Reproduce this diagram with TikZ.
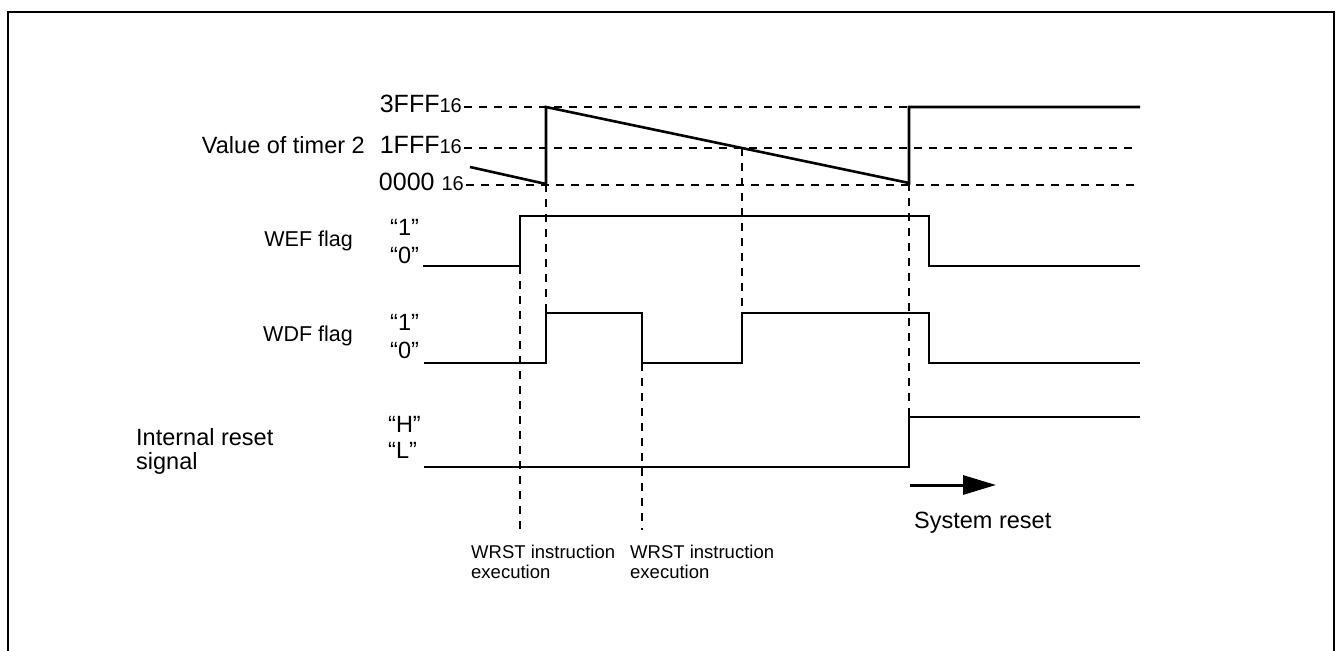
\documentclass[tikz,border=0pt]{standalone}
\usepackage{fontspec}
\setmainfont{Liberation Sans}
\usetikzlibrary{arrows.meta}
\begin{document}
\begin{tikzpicture}[x=1pt,y=-1pt,
  sig/.style={line width=2.6pt,line cap=butt,line join=miter},
  guide/.style={line width=1.5pt,dash pattern=on 8pt off 7pt},
  lbl/.style={inner sep=0pt,font=\fontsize{23.5}{26}\selectfont},
  flaglbl/.style={inner sep=0pt,font=\fontsize{21.5}{24}\selectfont},
  small/.style={inner sep=0pt,font=\fontsize{18.5}{21}\selectfont}]
\useasboundingbox (0,0) rectangle (1337,650);
% frame
\draw[line width=2.6pt] (8,700) -- (8,12) -- (1334,12) -- (1334,700);

% level labels of timer
\node[lbl,anchor=base east] (l3fff) at (462,113) {\fontsize{25}{28}\selectfont 3FFF{\fontsize{20}{22}\selectfont 16}};
\node[lbl,anchor=base east] (l1fff) at (462,153) {\fontsize{25}{28}\selectfont 1FFF{\fontsize{20}{22}\selectfont 16}};
\node[lbl,anchor=base east] (l0000) at (464,190) {\fontsize{25}{28}\selectfont 0000 {\fontsize{20}{22}\selectfont 16}};
\node[lbl,anchor=base east] (ltimer) at (365,153) {Value of timer 2};

% level coordinates
\coordinate (h3s) at (464,107); \coordinate (h3e) at (909,107);
\coordinate (h1s) at (464,148); \coordinate (h1e) at (1134,148);
\coordinate (h0s) at (466,185); \coordinate (h0e) at (1134,185);
\draw[guide] (h3s) -- (h3e);
\draw[guide] (h1s) -- (h1e);
\draw[guide] (h0s) -- (h0e);

% timer waveform
\coordinate (t0) at (470,167);
\coordinate (t1) at (546,184);
\coordinate (t2) at (546,107);
\coordinate (t3) at (909,183);
\coordinate (t4) at (909,107);
\coordinate (t5) at (1140,107);
\draw[sig] (t0) -- (t1) -- (t2) -- (t3) -- (t4) -- (t5);

% WEF flag
\node[flaglbl,anchor=base east] (lwef) at (353,246) {WEF flag};
\node[lbl,anchor=base west] (wef1) at (390,235) {“1”};
\node[lbl,anchor=base west] (wef0) at (390,263) {“0”};
\coordinate (w0) at (423,266);
\coordinate (w1) at (520,266);
\coordinate (w2) at (520,216);
\coordinate (w3) at (929,216);
\coordinate (w4) at (929,266);
\coordinate (w5) at (1140,266);
\draw[sig] (w0) -- (w1) -- (w2) -- (w3) -- (w4) -- (w5);

% WDF flag
\node[flaglbl,anchor=base east] (lwdf) at (353,341) {WDF flag};
\node[lbl,anchor=base west] (wdf1) at (390,330) {“1”};
\node[lbl,anchor=base west] (wdf0) at (390,358) {“0”};
\coordinate (d0) at (424,363);
\coordinate (d1) at (546,363);
\coordinate (d2) at (546,313);
\coordinate (d3) at (642,313);
\coordinate (d4) at (642,363);
\coordinate (d5) at (742,363);
\coordinate (d6) at (742,313);
\coordinate (d7) at (929,313);
\coordinate (d8) at (929,363);
\coordinate (d9) at (1140,363);
\draw[sig] (d0) -- (d1) -- (d2) -- (d3) -- (d4) -- (d5) -- (d6) -- (d7) -- (d8) -- (d9);

% Internal reset
\node[lbl,anchor=base west] (lrst) at (136,445) {Internal reset};
\node[lbl,anchor=base west] (lsig) at (136,469) {signal};
\node[lbl,anchor=base west] (rH) at (388,432) {“H”};
\node[lbl,anchor=base west] (rL) at (388,458) {“L”};
\coordinate (r0) at (424,467);
\coordinate (r1) at (909,467);
\coordinate (r2) at (909,417);
\coordinate (r3) at (1140,417);
\draw[sig] (r0) -- (r1) -- (r2) -- (r3);

% vertical guides
\coordinate (v1b) at (520,535);
\coordinate (v3b) at (642,530);
\coordinate (v4t) at (742,148);
\draw[guide] (w1) -- (v1b);
\draw[guide] (t1) -- (d2);
\draw[guide] (d4) -- (v3b);
\draw[guide] (v4t) -- (d6);
\draw[guide] (t3) -- (r2);

% WRST labels
\node[small,anchor=base west] (wr1) at (471,558) {WRST instruction};
\node[small,anchor=base west] (ex1) at (471,578) {execution};
\node[small,anchor=base west] (wr2) at (630,558) {WRST instruction};
\node[small,anchor=base west] (ex2) at (630,578) {execution};

% system reset arrow
\coordinate (a0) at (910,485);
\coordinate (a1) at (996,485);
\draw[line width=3pt,-{Triangle[length=33pt,width=19pt]}] (a0) -- (a1);
\node[lbl,anchor=base west] (lsys) at (914,528) {System reset};
\end{tikzpicture}
\end{document}
